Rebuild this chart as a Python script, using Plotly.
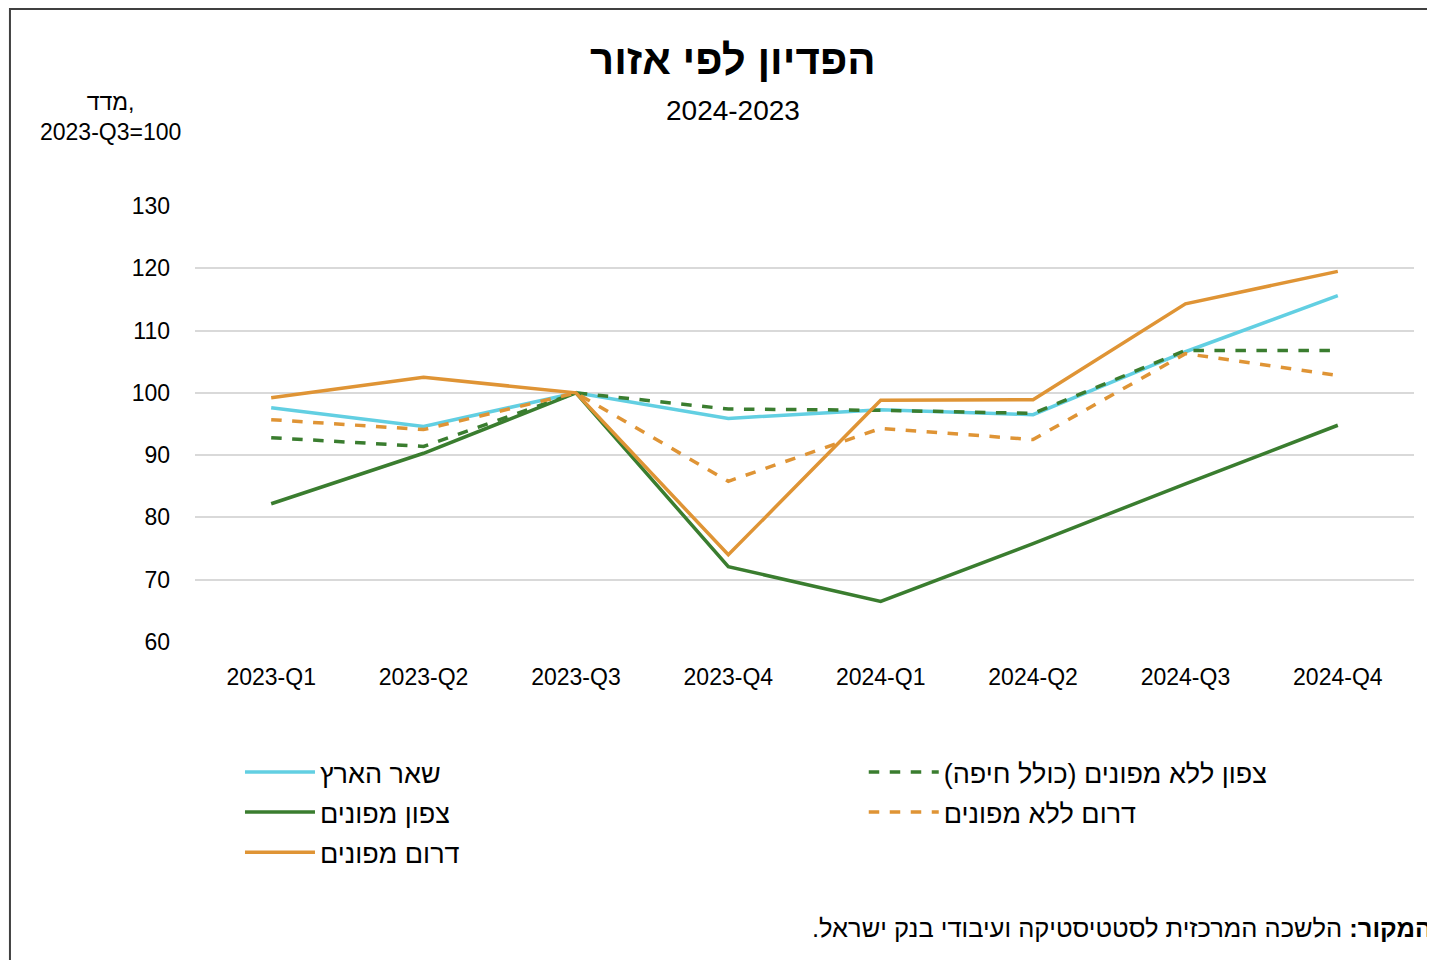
import plotly.graph_objects as go

# רבעונים
quarters = ['2023-Q1', '2023-Q2', '2023-Q3', '2023-Q4',
            '2024-Q1', '2024-Q2', '2024-Q3', '2024-Q4']

# מדד, 2023-Q3=100
rest_of_country = [97.6, 94.6, 100, 95.9, 97.3, 96.5, 106.6, 115.6]
north_no_evac = [92.8, 91.4, 100, 97.4, 97.2, 96.7, 106.8, 106.8]
north_evac = [82.2, 90.3, 100, 72.1, 66.5, 75.8, 85.4, 94.8]
south_no_evac = [95.7, 94.1, 100, 85.8, 94.3, 92.5, 106.3, 102.8]
south_evac = [99.2, 102.5, 100, 74.0, 98.8, 98.9, 114.3, 119.5]

RLM = '\u200f'
CYAN = '#62cfe2'
GREEN = '#3a7d2f'
ORANGE = '#df9435'
FONT = 'Liberation Sans'

# (שם, ערכים, צבע, סגנון קו, מקרא)
series = [
    ('שאר הארץ', rest_of_country, CYAN, 'solid', 'legend'),
    ('צפון ללא מפונים (כולל חיפה)', north_no_evac, GREEN, 'dash', 'legend2'),
    ('צפון מפונים', north_evac, GREEN, 'solid', 'legend'),
    ('דרום ללא מפונים', south_no_evac, ORANGE, 'dash', 'legend2'),
    ('דרום מפונים', south_evac, ORANGE, 'solid', 'legend'),
]

fig = go.Figure()
for i, (name, vals, color, dash, leg) in enumerate(series):
    fig.add_trace(go.Scatter(
        x=quarters, y=vals, mode='lines',
        name=RLM + name + RLM, legend=leg, legendgroup=str(i),
        line=dict(color=color, width=3.5, dash=dash),
    ))

legend_style = dict(
    orientation='v', yanchor='top', xanchor='left', itemwidth=70,
    font=dict(family=FONT, size=27, color='black'),
    tracegroupgap=2, bgcolor='rgba(0,0,0,0)',
)

fig.update_layout(
    width=1427, height=952,
    margin=dict(l=187, r=21, t=198, b=318),
    paper_bgcolor='white', plot_bgcolor='white',
    font=dict(family=FONT, size=23, color='black'),
    showlegend=True,
    legend=dict(x=0.0369, y=-0.243, **legend_style),
    legend2=dict(x=0.5486, y=-0.243, **legend_style),
    xaxis=dict(range=[-0.5, 7.5], showgrid=False, showline=False, ticks='',
               ticklabelstandoff=19, tickfont=dict(size=23)),
    yaxis=dict(range=[60, 130], dtick=10, showgrid=True, gridcolor='#d9d9d9',
               gridwidth=1.5, zeroline=False, showline=False, ticks='',
               ticklabelstandoff=24, tickfont=dict(size=23)),
)

# כותרת וכותרת משנה
fig.add_annotation(text='<b>הפדיון לפי אזור</b>', xref='paper', yref='paper',
                   x=0.441, y=1.335, xanchor='center', yanchor='middle', showarrow=False,
                   font=dict(size=42, family=FONT))
fig.add_annotation(text='2024-2023', xref='paper', yref='paper',
                   x=0.441, y=1.22, xanchor='center', yanchor='middle', showarrow=False,
                   font=dict(size=28, family=FONT))
fig.add_annotation(text='מדד,<br>2023-Q3=100', xref='paper', yref='paper',
                   x=-0.0697, y=1.205, xanchor='center', yanchor='middle', showarrow=False,
                   align='center', font=dict(size=23, family=FONT))

# מקור
fig.add_annotation(text=RLM + '<b>המקור:</b> הלשכה המרכזית לסטטיסטיקה ועיבודי בנק ישראל.' + RLM,
                   xref='paper', yref='paper', x=1.016, y=-0.656,
                   xanchor='right', yanchor='middle', showarrow=False,
                   font=dict(size=25.5, family=FONT))

# מסגרת
fig.add_shape(type='rect', xref='paper', yref='paper',
              x0=-0.1518, x1=1.1, y0=-1.0, y1=1.452,
              line=dict(color='#404040', width=2), layer='below')

fig.write_html('out.html')
